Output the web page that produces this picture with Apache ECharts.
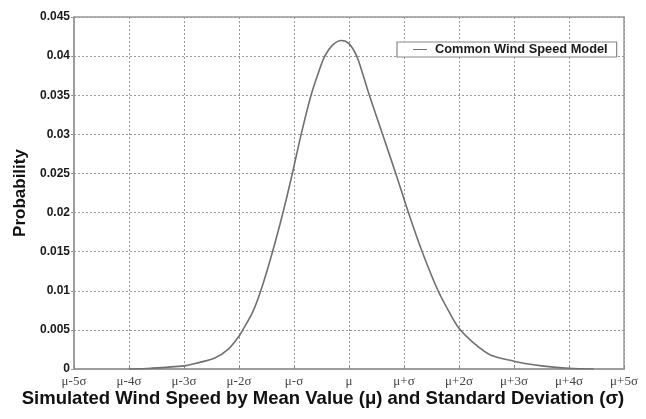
<!DOCTYPE html>
<html>
<head>
<meta charset="utf-8">
<script src="https://cdn.jsdelivr.net/npm/echarts@6/dist/echarts.min.js"></script>
<style>
html,body{margin:0;padding:0;background:#fff;}
#chart{width:646px;height:419px;}
</style>
</head>
<body>
<div id="chart"></div>
<script>
// x positions in units of sigma relative to mu
const xSigma = [-4.0, -3.6, -3.0, -2.8, -2.44, -2.2, -2.0, -1.93, -1.75, -1.6, -1.39, -1.2, -1.03, -0.87, -0.69, -0.55, -0.44, -0.3, -0.14, 0.0, 0.14, 0.25, 0.37, 0.61, 0.85, 1.08, 1.33, 1.62, 1.82, 2.0, 2.27, 2.57, 3.0, 3.2, 3.5, 4.0, 4.45];
const probability = [0, 0.0001, 0.0004, 0.0007, 0.0014, 0.0025, 0.0042, 0.005, 0.0073, 0.0101, 0.015, 0.020, 0.025, 0.030, 0.035, 0.038, 0.040, 0.0414, 0.0420, 0.0416, 0.040, 0.0377, 0.035, 0.030, 0.025, 0.020, 0.015, 0.010, 0.0073, 0.0052, 0.0033, 0.0018, 0.0010, 0.0007, 0.0004, 0.0001, 0];
const xTickLabels = ['μ-5σ','μ-4σ','μ-3σ','μ-2σ','μ-σ','μ','μ+σ','μ+2σ','μ+3σ','μ+4σ','μ+5σ'];
const seriesName = 'Common Wind Speed Model';
const xAxisTitle = 'Simulated Wind Speed by Mean Value (μ) and Standard Deviation (σ)';
const yAxisTitle = 'Probability';

const chart = echarts.init(document.getElementById('chart'), null, {renderer:'canvas'});
const data = xSigma.map((x,i)=>[x, probability[i]]);
const gridLine = {show:true, lineStyle:{color:'#999', type:[2,2], width:1}};
chart.setOption({
  animation:false,
  backgroundColor:'#fff',
  title:{
    text:xAxisTitle, left:'center', top:389, padding:0,
    textStyle:{fontFamily:'Liberation Sans, Arial, sans-serif', fontWeight:'bold', fontSize:18.5, color:'#111'}
  },
  grid:{left:74, right:22, top:17, bottom:50, show:true, borderColor:'#999', borderWidth:1.5, backgroundColor:'transparent', outerBoundsMode:'none', containLabel:false},
  legend:{
    left:397, top:42, orient:'horizontal',
    padding:[1,9,1,16], itemGap:4,
    backgroundColor:'#fff', borderColor:'#888', borderWidth:1.2, borderRadius:0,
    itemWidth:14, itemHeight:10, icon:'path://M0,4.5 L14,4.5 L14,5.5 L0,5.5 Z',
    textStyle:{fontFamily:'Liberation Sans, Arial, sans-serif', fontWeight:'bold', fontSize:12.8, color:'#1a1a1a', padding:[0,0,0,3]},
    data:[seriesName]
  },
  xAxis:{
    type:'value', min:-5, max:5, interval:1,
    axisLine:{show:true, onZero:false, lineStyle:{color:'#999', width:1.5}},
    axisTick:{show:true, inside:true, length:4, lineStyle:{color:'#888'}},
    splitLine:gridLine,
    axisLabel:{
      margin:6, color:'#444', fontSize:13, fontFamily:'Liberation Serif, Times New Roman, serif',
      formatter:(v)=>xTickLabels[Math.round(v)+5]
    }
  },
  yAxis:{
    type:'value', min:0, max:0.045, interval:0.005,
    axisLine:{show:true, onZero:false, lineStyle:{color:'#999', width:1.5}},
    axisTick:{show:true, length:3, lineStyle:{color:'#999'}},
    splitLine:gridLine,
    axisLabel:{
      margin:4, color:'#1a1a1a', fontSize:12, fontWeight:'bold', fontFamily:'Liberation Sans, Arial, sans-serif',
      formatter:(v)=>String(parseFloat(v.toFixed(3)))
    },
    name:yAxisTitle, nameLocation:'middle', nameGap:41, nameRotate:90,
    nameTextStyle:{fontFamily:'Liberation Sans, Arial, sans-serif', fontWeight:'bold', fontSize:17, color:'#111'}
  },
  series:[{
    name:seriesName, type:'line', data:data, smooth:0.3, showSymbol:false,
    lineStyle:{color:'#707070', width:1.6}, itemStyle:{color:'#707070'}
  }]
});
</script>
</body>
</html>
